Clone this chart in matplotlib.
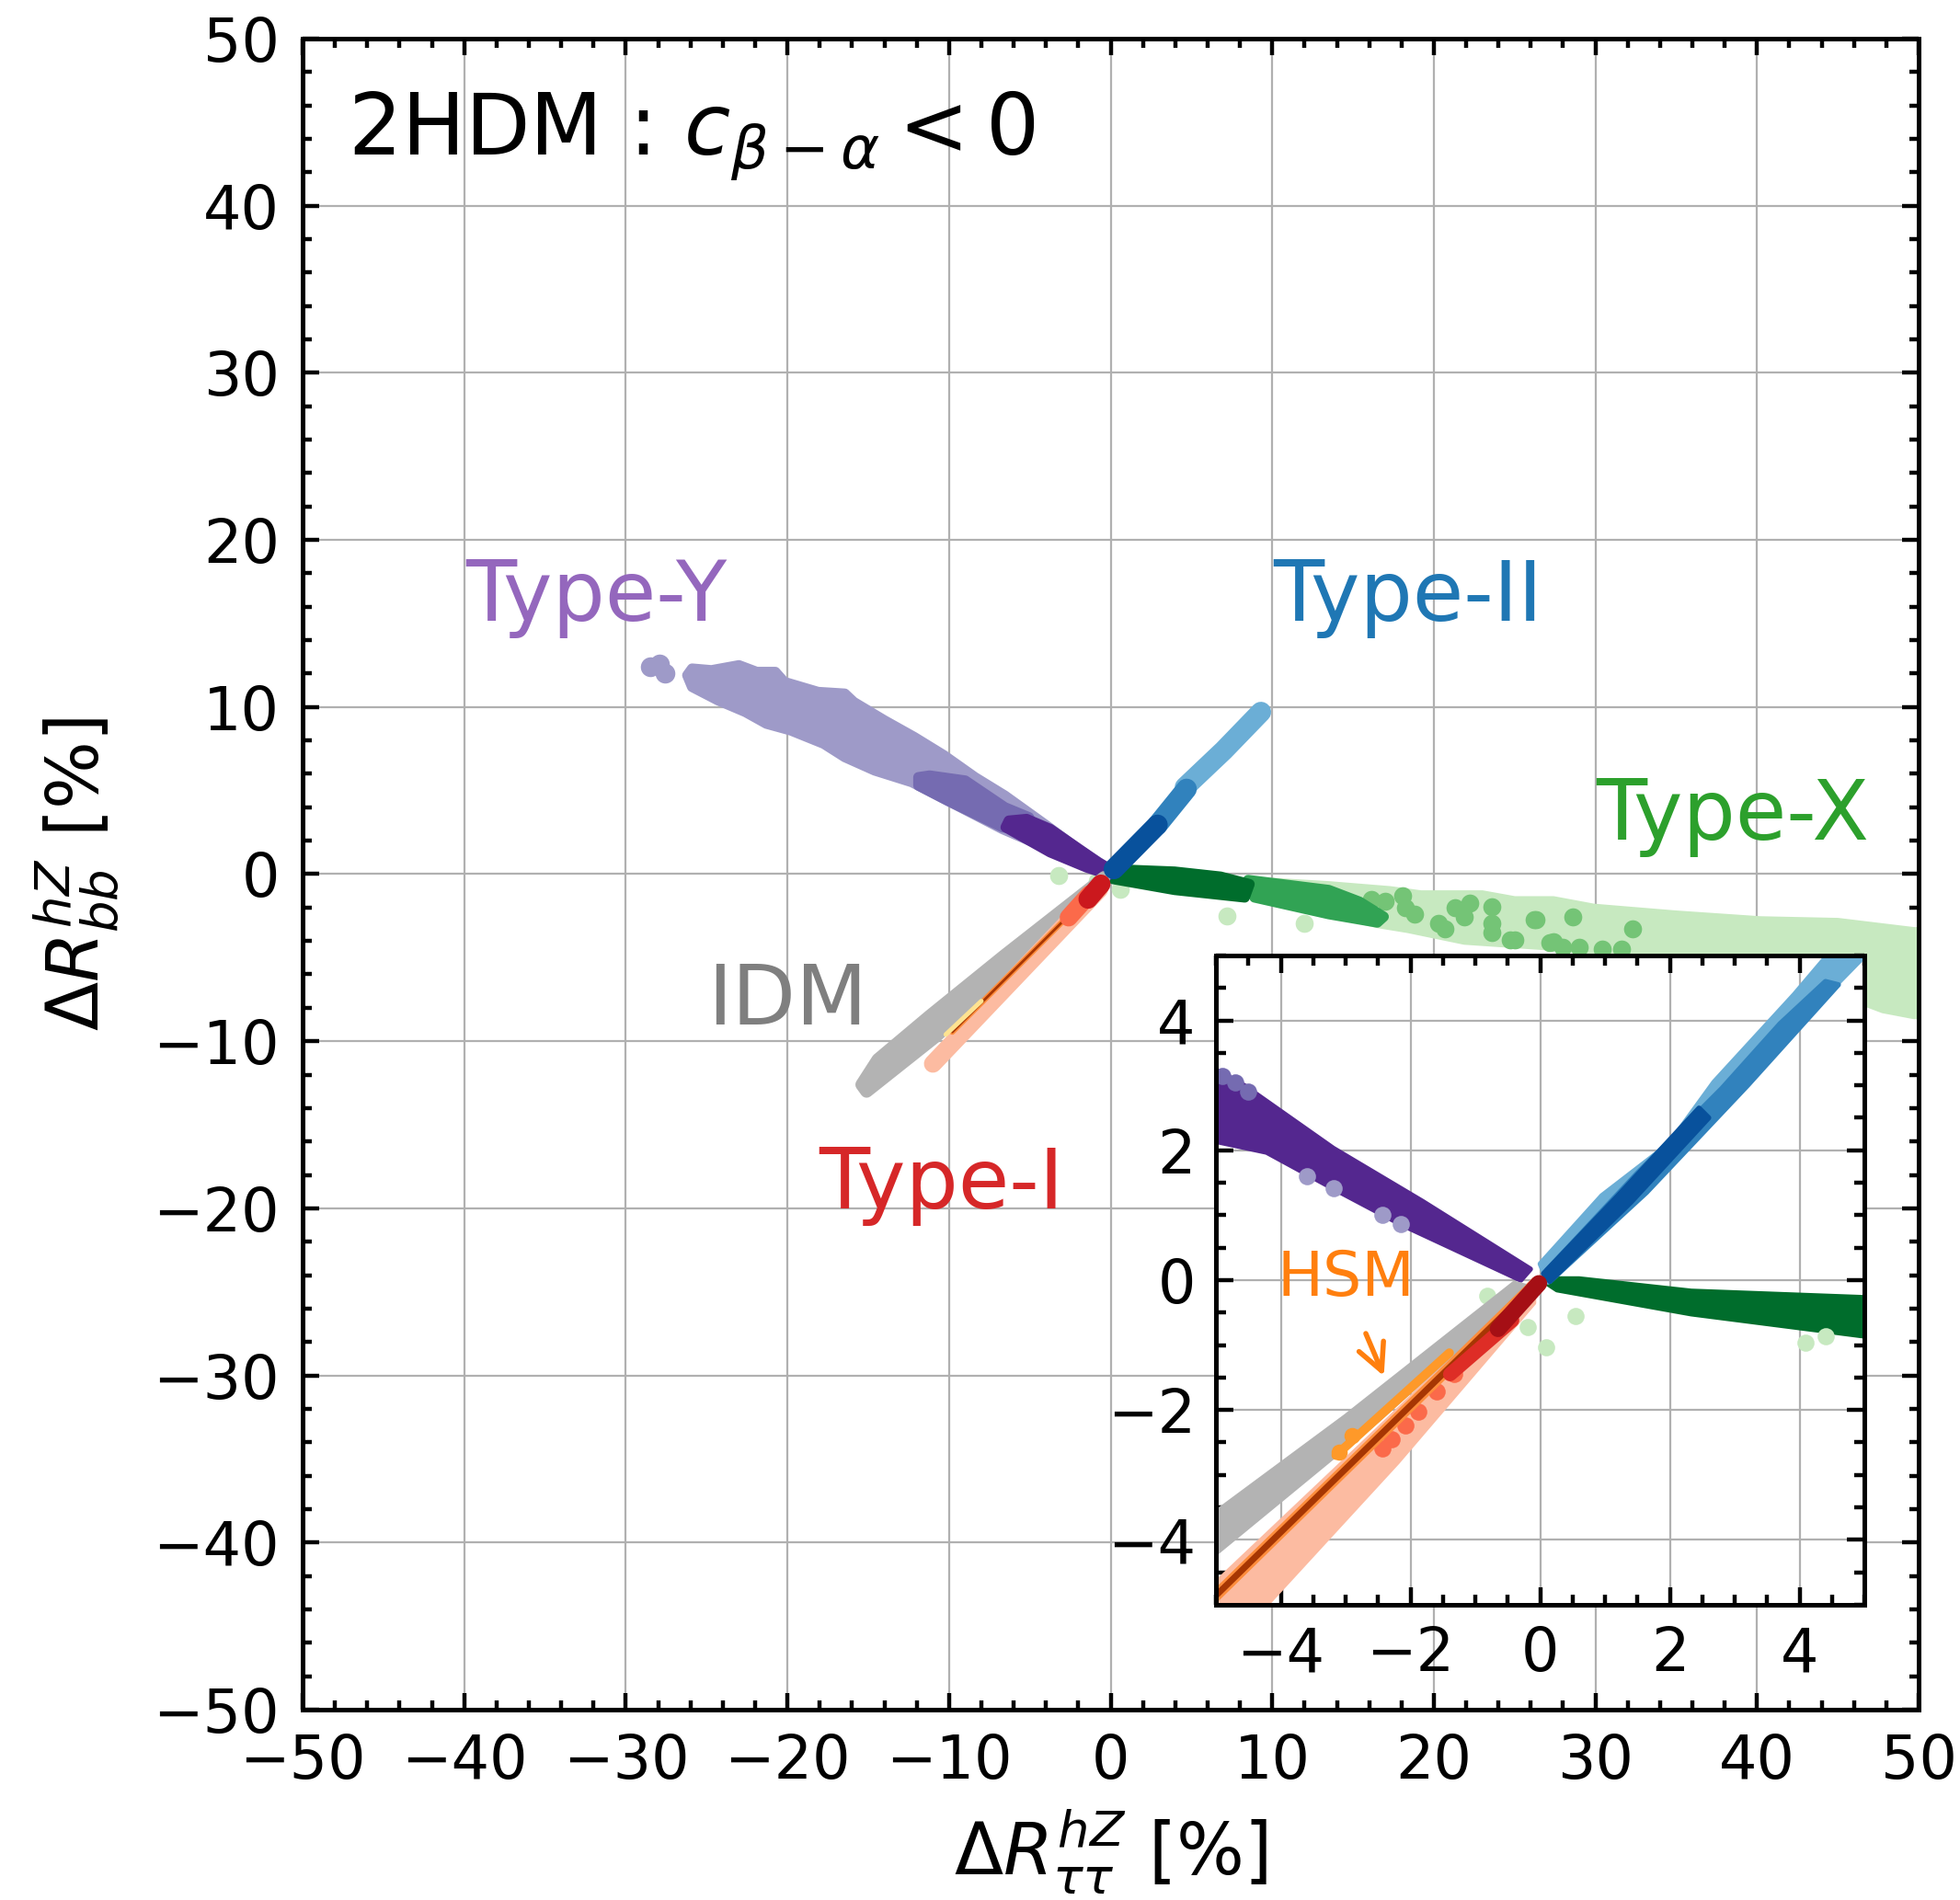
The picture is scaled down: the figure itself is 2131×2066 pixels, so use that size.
import matplotlib.pyplot as plt
from matplotlib.ticker import MultipleLocator

# ---------------- main panel (values in %) ----------------
# Type-Y (purple) cloud outlines, light -> dark
ty_light_x = [-26.2, -25.9, -24.7, -23.0, -21.9, -20.75, -20.2, -18.1, -16.45, -15.9, -14.0, -12.15,
              -10.3, -8.4, -6.55, -4.1, -2.0, 0.0,
              -0.2, -6.7, -12.3, -14.6, -16.45, -17.75, -19.8, -21.3, -22.6, -24.3, -25.9]
ty_light_y = [11.9, 12.3, 12.2, 12.5, 12.1, 12.1, 11.5, 10.9, 10.8, 10.3, 9.2, 8.2,
              7.1, 5.8, 4.7, 3.0, 1.5, 0.25,
              0.0, 2.7, 5.5, 6.2, 7.0, 7.8, 8.6, 9.0, 9.7, 10.4, 11.2]
ty_blob_x = [-28.5, -27.9, -27.6]
ty_blob_y = [12.4, 12.55, 12.0]
ty_mid_x = [-11.9, -11.2, -9.0, -6.55, -5.05, -4.6, -6.7, -10.1, -11.9]
ty_mid_y = [5.8, 5.9, 5.6, 4.0, 3.4, 2.5, 2.8, 4.4, 5.3]
ty_dark_x = [-6.3, -5.2, -3.74, -0.75, 0.05, -0.1, -1.5, -3.74, -6.5]
ty_dark_y = [3.2, 3.3, 2.7, 0.7, 0.25, -0.05, 0.4, 1.3, 2.8]

# Type-II (blue) centre lines, light -> dark
t2_light_x = [4.6, 7.0, 9.3]
t2_light_y = [5.2, 7.4, 9.7]
t2_mid_x = [2.9, 4.7]
t2_mid_y = [2.95, 5.1]
t2_dark_x = [0.2, 2.9]
t2_dark_y = [0.3, 2.95]

# Type-X (green) cloud outlines
tx_pale_x = [10.0, 13.5, 17.3, 19.2, 23.0, 25.0, 27.4, 29.9, 34.9, 36.4, 40.2, 45.0, 49.7, 51.0,
             51.0, 49.7, 47.8, 46.7, 40.0, 35.0, 28.0, 21.9, 18.4, 16.5, 12.0]
tx_pale_y = [-0.45, -0.65, -0.95, -1.2, -1.2, -1.55, -1.55, -2.0, -2.4, -2.5, -2.75, -2.85, -3.4, -3.4,
             -8.5, -8.45, -8.1, -7.7, -6.5, -5.6, -4.4, -4.0, -3.3, -3.0, -2.0]
tx_pale_pts_x = [-3.2, 7.2, 12.0, 0.6, -0.8]
tx_pale_pts_y = [-0.1, -2.5, -2.95, -0.9, -0.4]
tx_light_pts_x = [16.15, 17.0, 18.06, 18.25, 18.8, 20.3, 20.7, 21.3, 21.9, 22.25, 23.6, 23.6, 23.6,
                  24.7, 26.3, 27.4, 25.0, 26.2, 28.6, 32.3, 27.2, 28.0, 29.0, 30.4, 31.6]
tx_light_pts_y = [-1.5, -1.6, -1.3, -2.0, -2.4, -2.95, -3.3, -2.0, -2.55, -1.75, -1.95, -2.95, -3.5,
                  -3.95, -2.75, -4.05, -3.95, -2.75, -2.55, -3.3, -4.1, -4.4, -4.4, -4.5, -4.5]
tx_mid_x = [8.5, 13.5, 15.4, 16.9, 16.5, 13.5, 8.9]
tx_mid_y = [-0.35, -0.95, -1.65, -2.55, -2.9, -2.4, -1.4]
tx_dark_x = [0.0, 3.96, 6.8, 8.6, 8.3, 3.96, 0.15]
tx_dark_y = [0.3, 0.15, -0.15, -0.6, -1.4, -0.95, -0.3]

# IDM (grey) outline
idm_x = [-0.4, -6.6, -11.2, -14.4, -15.4, -15.1, -10.8, -6.2, -0.6]
idm_y = [-0.2, -4.9, -8.5, -11.1, -12.6, -13.0, -9.7, -5.6, -0.5]

# Type-I (red) centre lines
t1_pale_x = [-0.7, -11.0]
t1_pale_y = [-0.9, -11.35]
t1_mid_x = [-2.6, -1.3]
t1_mid_y = [-2.6, -1.2]
t1_dark_x = [-1.4, -0.6]
t1_dark_y = [-1.5, -0.6]

# HSM (orange/brown) thin lines
hsm_x = [-0.5, -9.8]
hsm_y = [-0.45, -9.45]
hsm_yel_x = [-8.0, -10.2]
hsm_yel_y = [-7.6, -9.6]

# ---------------- inset panel (values in %) ----------------
in_ty_x = [-5.3, -4.57, -3.19, -1.81, -0.15, -0.3, -2.15, -3.19, -4.22, -5.3]
in_ty_y = [3.4, 3.0, 2.03, 1.21, 0.17, 0.0, 0.86, 1.41, 1.97, 2.2]
in_ty_mid_x = [-5.3, -4.9, -4.7, -4.5]
in_ty_mid_y = [3.3, 3.15, 3.05, 2.9]
in_ty_pale_x = [-3.19, -2.43, -2.15, -3.6]
in_ty_pale_y = [1.41, 1.0, 0.86, 1.6]

in_t2_light_x = [0.0, 0.95, 1.99, 2.68, 3.92, 4.6, 5.3, 4.4, 3.02, 1.64, 0.12]
in_t2_light_y = [0.25, 1.3, 2.1, 3.05, 4.4, 5.2, 5.3, 4.38, 2.86, 1.41, -0.03]
in_t2_mid_x = [0.1, 1.5, 2.8, 3.7, 4.4, 4.6, 3.2, 1.64, 0.15]
in_t2_mid_y = [0.15, 1.65, 2.95, 3.95, 4.6, 4.55, 3.0, 1.35, -0.02]
in_t2_dark_x = [0.05, 1.2, 2.45, 2.6, 1.4, 0.15]
in_t2_dark_y = [0.1, 1.3, 2.65, 2.5, 1.2, -0.02]

in_tx_x = [0.0, 0.6, 2.33, 5.3, 5.3, 2.33, 0.26]
in_tx_y = [0.02, 0.02, -0.17, -0.28, -0.9, -0.52, -0.15]
in_tx_pale_x = [-0.81, -0.19, 0.09, 0.54, 4.09, 4.4]
in_tx_pale_y = [-0.24, -0.72, -1.03, -0.55, -0.97, -0.86]

in_idm_x = [-0.4, -3.0, -5.3, -5.3, -2.5, -0.2]
in_idm_y = [-0.05, -2.1, -3.8, -4.45, -2.15, -0.1]

in_t1_pale_x = [-0.1, -2.5, -5.3, -4.5, -2.2, -0.1]
in_t1_pale_y = [0.0, -2.3, -4.95, -5.3, -2.8, -0.35]
in_t1_pts_x = [-2.43, -2.29, -2.08, -1.88, -1.32, -1.6]
in_t1_pts_y = [-2.59, -2.45, -2.24, -2.03, -1.45, -1.72]
in_t1_dark_x = [-1.39, -0.43]
in_t1_dark_y = [-1.45, -0.62]
in_t1_darkest_x = [-0.65, -0.02]
in_t1_darkest_y = [-0.75, -0.05]

in_hsm_x = [-0.05, -5.3]
in_hsm_y = [-0.03, -5.15]
in_hsm_wide_x = [-3.15, -1.4]
in_hsm_wide_y = [-2.7, -1.12]
in_hsm_pts_x = [-3.1, -2.9]
in_hsm_pts_y = [-2.65, -2.4]


def band(ax, xs, ys, color, lw=2.0):
    ax.fill(xs, ys, color=color, ec=color, lw=lw, joinstyle='round')


def stroke(ax, xs, ys, color, lw):
    ax.plot(xs, ys, color=color, lw=lw, solid_capstyle='round')


def dots(ax, xs, ys, color, s):
    ax.scatter(xs, ys, color=color, s=s, lw=0)


def style_axes(ax, minor, ticklen, fs, pad):
    ax.tick_params(which='both', direction='in', top=True, right=True, labelsize=fs, width=1.6, pad=pad)
    ax.tick_params(which='major', length=ticklen[0])
    ax.tick_params(which='minor', length=ticklen[1])
    ax.xaxis.set_minor_locator(MultipleLocator(minor))
    ax.yaxis.set_minor_locator(MultipleLocator(minor))
    ax.grid(True, which='major', color='#b0b0b0', lw=0.8)
    ax.set_axisbelow(True)
    for sp in ax.spines.values():
        sp.set_linewidth(1.8)


fig = plt.figure(figsize=(10.655, 10.33), dpi=200)
ax = fig.add_axes([0.1544, 0.1002, 0.8245, 0.8795])

# main panel
band(ax, tx_pale_x, tx_pale_y, '#c7e9c0', 3)
dots(ax, tx_pale_pts_x, tx_pale_pts_y, '#c7e9c0', 50)
dots(ax, tx_light_pts_x, tx_light_pts_y, '#74c476', 50)
band(ax, tx_mid_x, tx_mid_y, '#31a354', 4)
band(ax, tx_dark_x, tx_dark_y, '#006d2c', 4)

band(ax, ty_light_x, ty_light_y, '#9e9ac8', 4)
dots(ax, ty_blob_x, ty_blob_y, '#9e9ac8', 60)
band(ax, ty_mid_x, ty_mid_y, '#756bb1', 4)
band(ax, ty_dark_x, ty_dark_y, '#54278f', 4)

stroke(ax, t2_light_x, t2_light_y, '#6baed6', 8)
stroke(ax, t2_mid_x, t2_mid_y, '#3182bd', 8)
stroke(ax, t2_dark_x, t2_dark_y, '#08519c', 8)

stroke(ax, t1_pale_x, t1_pale_y, '#fcbba1', 7)
band(ax, idm_x, idm_y, '#b3b3b3', 5)
stroke(ax, hsm_x, hsm_y, '#fd8d3c', 2.2)
stroke(ax, hsm_x, hsm_y, '#a63603', 1.0)
stroke(ax, hsm_yel_x, hsm_yel_y, '#fee391', 1.8)
stroke(ax, t1_mid_x, t1_mid_y, '#fb6a4a', 7)
stroke(ax, t1_dark_x, t1_dark_y, '#cb181d', 7.5)

ax.set_xlim(-50, 50)
ax.set_ylim(-50, 50)
ax.xaxis.set_major_locator(MultipleLocator(10))
ax.yaxis.set_major_locator(MultipleLocator(10))
style_axes(ax, 2, (6.5, 3.6), 23.5, 9)
ax.set_xlabel(r'$\Delta R^{hZ}_{\tau\tau}$ [%]', fontsize=28, labelpad=6)
ax.set_ylabel(r'$\Delta R^{hZ}_{bb}$ [%]', fontsize=28, labelpad=12)

ax.text(-47.2, 43.1, r'2HDM : $c_{\beta-\alpha} < 0$', fontsize=33, va='baseline')
ax.text(-31.8, 15.15, 'Type-Y', color='tab:purple', fontsize=32.5, ha='center', va='baseline')
ax.text(18.4, 15.15, 'Type-II', color='tab:blue', fontsize=32.5, ha='center', va='baseline')
ax.text(38.5, 2.06, 'Type-X', color='tab:green', fontsize=32.5, ha='center', va='baseline')
ax.text(-20.0, -9.0, 'IDM', color='tab:gray', fontsize=32.5, ha='center', va='baseline')
ax.text(-10.5, -20.0, 'Type-I', color='tab:red', fontsize=32.5, ha='center', va='baseline')

# inset panel
axi = fig.add_axes([0.6204, 0.1554, 0.3308, 0.3417])
band(axi, in_tx_x, in_tx_y, '#006d2c')
dots(axi, in_tx_pale_x, in_tx_pale_y, '#c7e9c0', 45)

band(axi, in_ty_x, in_ty_y, '#54278f')
dots(axi, in_ty_mid_x, in_ty_mid_y, '#756bb1', 45)
dots(axi, in_ty_pale_x, in_ty_pale_y, '#9e9ac8', 45)

band(axi, in_t2_light_x, in_t2_light_y, '#6baed6')
band(axi, in_t2_mid_x, in_t2_mid_y, '#3182bd')
band(axi, in_t2_dark_x, in_t2_dark_y, '#08519c')

band(axi, in_t1_pale_x, in_t1_pale_y, '#fcbba1')
band(axi, in_idm_x, in_idm_y, '#b3b3b3')
stroke(axi, in_hsm_wide_x, in_hsm_wide_y, '#fe9929', 3.5)
dots(axi, in_hsm_pts_x, in_hsm_pts_y, '#fe9929', 40)
stroke(axi, in_hsm_x, in_hsm_y, '#fd8d3c', 4.5)
stroke(axi, in_hsm_x, in_hsm_y, '#a63603', 2.5)
dots(axi, in_t1_pts_x, in_t1_pts_y, '#fb6a4a', 45)
stroke(axi, in_t1_dark_x, in_t1_dark_y, '#de2d26', 5.5)
stroke(axi, in_t1_darkest_x, in_t1_darkest_y, '#a50f15', 6.5)

axi.set_xlim(-5, 5)
axi.set_ylim(-5, 5)
axi.xaxis.set_major_locator(MultipleLocator(2))
axi.yaxis.set_major_locator(MultipleLocator(2))
style_axes(axi, 0.5, (7, 4), 23.5, 8)
axi.set_facecolor('white')

axi.text(-3.0, -0.24, 'HSM', color='tab:orange', fontsize=24, ha='center', va='baseline')
axi.annotate('', xy=(-2.38, -1.55), xytext=(-2.72, -0.75),
             arrowprops=dict(arrowstyle='->', color='tab:orange', lw=2, mutation_scale=26))

fig.savefig('out.png', dpi=200)
